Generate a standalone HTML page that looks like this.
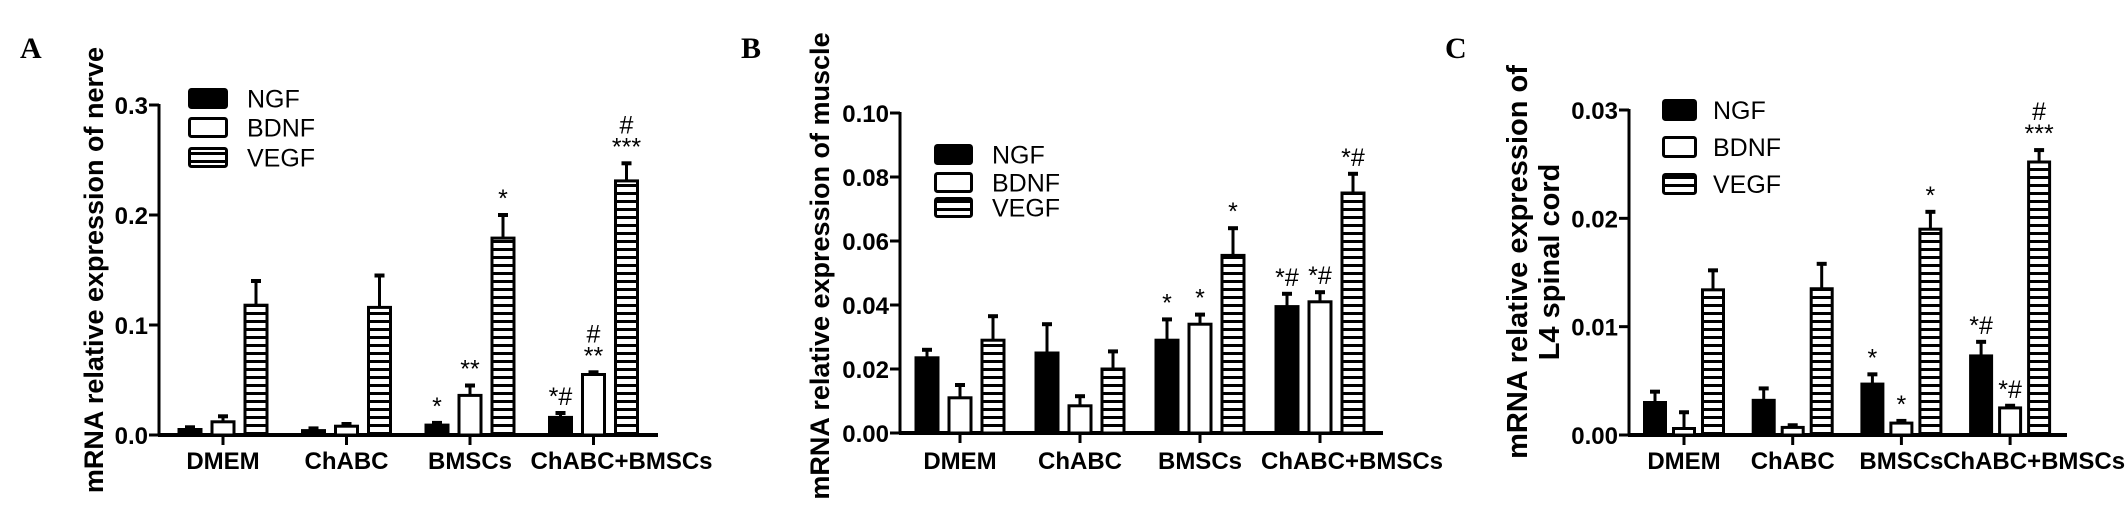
<!DOCTYPE html>
<html><head><meta charset="utf-8"><style>
html,body{margin:0;padding:0;background:#fff;}
svg{display:block;font-family:"Liberation Sans",Arial,sans-serif;}
</style></head><body>
<svg id="fig" width="2126" height="505" viewBox="0 0 2126 505" xmlns="http://www.w3.org/2000/svg">
<defs>
<pattern id="stripes" width="10" height="8" patternUnits="userSpaceOnUse">
<rect width="10" height="8" fill="#fff"/><rect y="0" width="10" height="3" fill="#000"/>
</pattern>
</defs>
</svg>
<script>
// ---- Data ----
const categories = ["DMEM","ChABC","BMSCs","ChABC+BMSCs"];
const seriesNames = ["NGF","BDNF","VEGF"];
// Panel A (nerve)
const aNGF = [0.005,0.004,0.009,0.016];
const aNGFerr = [0.002,0.002,0.002,0.004];
const aBDNF = [0.012,0.008,0.036,0.055];
const aBDNFerr = [0.005,0.002,0.009,0.002];
const aVEGF = [0.118,0.116,0.179,0.231];
const aVEGFerr = [0.022,0.029,0.021,0.016];
const aTicks = [0,0.1,0.2,0.3];
const aTickLabels = ["0.0","0.1","0.2","0.3"];
const aNotes = [[],["","","*","*#"],["","","**","#|**"],["","","*","#|***"]];
// Panel B (muscle)
const bNGF = [0.0235,0.025,0.029,0.0395];
const bNGFerr = [0.0025,0.009,0.0065,0.004];
const bBDNF = [0.011,0.0085,0.034,0.041];
const bBDNFerr = [0.004,0.003,0.003,0.003];
const bVEGF = [0.029,0.020,0.0555,0.075];
const bVEGFerr = [0.0075,0.0055,0.0085,0.006];
const bTicks = [0,0.02,0.04,0.06,0.08,0.10];
const bTickLabels = ["0.00","0.02","0.04","0.06","0.08","0.10"];
const bNotes = [[],["","","*","*#"],["","","*","*#"],["","","*","*#"]];
// Panel C (L4 spinal cord)
const cNGF = [0.0030,0.0032,0.0047,0.0073];
const cNGFerr = [0.0010,0.0011,0.0009,0.0013];
const cBDNF = [0.0006,0.0007,0.0011,0.0025];
const cBDNFerr = [0.0015,0.0002,0.0002,0.0002];
const cVEGF = [0.0134,0.0135,0.0190,0.0252];
const cVEGFerr = [0.0018,0.0023,0.0016,0.0011];
const cTicks = [0,0.01,0.02,0.03];
const cTickLabels = ["0.00","0.01","0.02","0.03"];
const cNotes = [[],["","","*","*#"],["","","*","*#"],["","","*","#|***"]];

const NS="http://www.w3.org/2000/svg";
const svg=document.getElementById('fig');
function mk(tag,attrs,parent){const e=document.createElementNS(NS,tag);for(const k in attrs)e.setAttribute(k,attrs[k]);(parent||svg).appendChild(e);return e;}

function panel(p){
  const g=mk('g',{});
  
  
  const y=v=>p.y0-(v/p.ymax)*(p.y0-p.yTop);
  const x=i=>p.gx0+i*p.gstep;
  const L=mk('text',{x:p.letterX,y:58,'font-family':'Liberation Serif,serif','font-weight':'bold','font-size':30},g);
  L.textContent=p.id;
  
  
  p.titles.forEach((t,k)=>{
    const T=mk('text',{x:0,y:0,'font-weight':'bold','font-size':p.titleSize,'text-anchor':'middle','dominant-baseline':'central',transform:`translate(${p.titleX[k]},${p.titleY}) rotate(-90)`},g);
    T.textContent=t;
    
    
  });
  const ax=mk('line',{x1:p.ax,y1:p.yTop-1,x2:p.ax,y2:p.y0,stroke:'#000','stroke-width':3},g);
  
  
  const xa=mk('line',{x1:p.ax-1,y1:p.y0,x2:p.xEnd,y2:p.y0,stroke:'#000','stroke-width':4},g);
  
  
  p.ticks.forEach((t,i)=>{
    mk('line',{x1:p.ax-10,y1:y(t),x2:p.ax,y2:y(t),stroke:'#000','stroke-width':3},g);
    const tl=mk('text',{x:p.ax-11,y:y(t)+9,'font-weight':'bold','font-size':24,'text-anchor':'end'},g);
    tl.textContent=p.tickLabels[i];
    
    
  });
  categories.forEach((c,i)=>{
    mk('line',{x1:x(i),y1:p.y0,x2:x(i),y2:p.y0+10,stroke:'#000','stroke-width':3},g);
    const sh=(i===categories.length-1)?p.lastShift:0;
    const cl=mk('text',{x:x(i)+sh,y:469,'font-weight':'bold','font-size':24,'text-anchor':'middle'},g);
    cl.textContent=c;
    
    
  });
  const fills=['#000','#fff','url(#stripes)'];
  [p.s0,p.s1,p.s2].forEach((vals,s)=>{
    vals.forEach((v,i)=>{
      const cx=x(i)+(s-1)*p.off, top=y(v), et=y(v+p.errs[s][i]);
      const eb=mk('line',{x1:cx,y1:et,x2:cx,y2:top,stroke:'#000','stroke-width':3},g);
      
      
      mk('line',{x1:cx-5,y1:et,x2:cx+5,y2:et,stroke:'#000','stroke-width':4},g);
      const b=mk('rect',{x:cx-p.bw/2+1.5,y:top,width:p.bw-3,height:Math.max(p.y0-top,1),fill:fills[s],stroke:'#000','stroke-width':3},g);
      
      
      const note=p.notes[s+1][i];
      if(note){
        note.split('|').reverse().forEach((ln,k)=>{
          const a=mk('text',{x:cx,y:et-8-k*22,'font-size':25,'text-anchor':'middle'},g);
          a.textContent=ln;
          
          
        });
      }
    });
  });
  seriesNames.forEach((n,s)=>{
    const ly=p.legY[s];
    const lb=mk('rect',{x:p.legX+1.5,y:ly+1.5,width:p.legW-3,height:p.legH-3,fill:fills[s],stroke:'#000','stroke-width':3,rx:2},g);
    
    
    const lt=mk('text',{x:p.legTX,y:ly+p.legH/2+9,'font-size':25},g);
    lt.textContent=n;
    
    
  });
}
panel({id:'A',letterX:20,titles:['mRNA relative expression of nerve'],titleX:[94],titleY:270,titleSize:27,
  ax:159,xEnd:658,y0:435,yTop:105,ymax:0.3,gx0:223,gstep:123.5,off:33,bw:25,lastShift:28,
  ticks:aTicks,tickLabels:aTickLabels,s0:aNGF,s1:aBDNF,s2:aVEGF,errs:[aNGFerr,aBDNFerr,aVEGFerr],notes:aNotes,
  legX:188,legW:40,legH:21,legY:[88,117,147],legTX:247});
panel({id:'B',letterX:741,titles:['mRNA relative expression of muscle'],titleX:[820],titleY:266,titleSize:27,
  ax:900,xEnd:1383,y0:433,yTop:113,ymax:0.10,gx0:960,gstep:120,off:33,bw:25,lastShift:32,
  ticks:bTicks,tickLabels:bTickLabels,s0:bNGF,s1:bBDNF,s2:bVEGF,errs:[bNGFerr,bBDNFerr,bVEGFerr],notes:bNotes,
  legX:934,legW:39,legH:21,legY:[144,172,197],legTX:992});
panel({id:'C',letterX:1445,titles:['mRNA relative expression of','L4 spinal cord'],titleX:[1518,1550],titleY:262,titleSize:29,
  ax:1629,xEnd:2067,y0:435,yTop:110,ymax:0.03,gx0:1684,gstep:108.7,off:29,bw:24,lastShift:24,
  ticks:cTicks,tickLabels:cTickLabels,s0:cNGF,s1:cBDNF,s2:cVEGF,errs:[cNGFerr,cBDNFerr,cVEGFerr],notes:cNotes,
  legX:1662,legW:35,legH:22,legY:[99,136,173],legTX:1713});
</script>
</body></html>
